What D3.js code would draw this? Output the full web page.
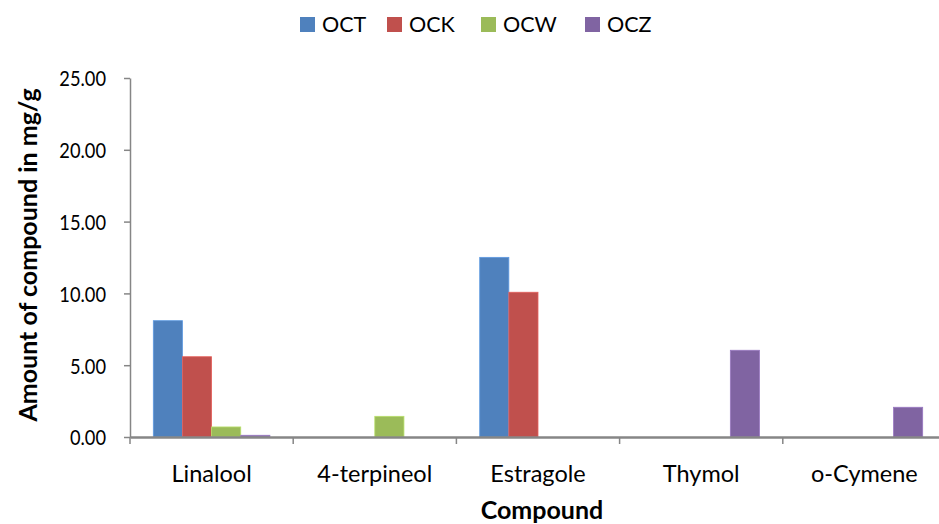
<!DOCTYPE html>
<html><head><meta charset="utf-8">
<script src="https://cdn.jsdelivr.net/npm/d3@7"></script>
<style>body{margin:0;background:#fff}svg{display:block;font-family:Lato,"Open Sans",sans-serif}</style>
</head><body><svg id="c" width="939" height="524"></svg>
<script>
const categories = ["Linalool","4-terpineol","Estragole","Thymol","o-Cymene"];
const seriesNames = ["OCT","OCK","OCW","OCZ"];
const OCT = [8.10, 0, 12.51, 0, 0];
const OCK = [5.59, 0, 10.08, 0, 0];
const OCW = [0.70, 1.44, 0, 0, 0];
const OCZ = [0.12, 0, 0, 6.04, 2.07];
const yTicks = [0,5,10,15,20,25];
const colors = ["#4F81BD","#C0504D","#9BBB59","#8064A2"];
const seriesVals = [OCT,OCK,OCW,OCZ];

const svg = d3.select("#c");
const x0 = 130, x1 = 946, yB = 437, yT = 78;
const x = d3.scaleBand().domain(categories).range([x0,x1]).paddingInner(0).paddingOuter(0);
const xs = d3.scaleBand().domain(seriesNames).range([0,x.bandwidth()]).paddingInner(0).paddingOuter(0.8);
const y = d3.scaleLinear().domain([0,25]).range([yB,yT]);

// bars
seriesNames.forEach((s,si)=>{
  svg.append("g").selectAll("rect").data(categories.map((c,i)=>({c,v:seriesVals[si][i]})).filter(d=>d.v>0))
    .join("rect")
    .attr("x",d=>x(d.c)+xs(s))
    .attr("y",d=>y(d.v))
    .attr("width",xs.bandwidth())
    .attr("height",d=>yB-y(d.v))
    .attr("fill",colors[si])
    .attr("stroke",d3.color(colors[si]).brighter(0.5))
    .attr("stroke-width",0.8);
});

// y axis
const ya = svg.append("g").attr("transform",`translate(${x0},0)`)
  .call(d3.axisLeft(y).tickValues(yTicks).tickFormat(d3.format(".2f")).tickSize(6).tickSizeOuter(0));
ya.select(".domain").attr("stroke","#868686").attr("stroke-width",1.5);
ya.selectAll(".tick line").attr("stroke","#868686").attr("stroke-width",1.5);
ya.selectAll(".tick text").attr("font-size",22).attr("fill","#000").attr("x",0).attr("dy","0.36em")
  .attr("transform","translate(-24,0) scale(0.83,1)").attr("font-family","Lato");

// x axis
const xa = svg.append("g").attr("transform",`translate(0,${yB})`)
  .call(d3.axisBottom(x).tickSize(0).tickSizeOuter(0));
xa.select(".domain").attr("stroke","#868686").attr("stroke-width",2.5);
xa.selectAll(".tick text").attr("font-size",23.5).attr("fill","#000").attr("y",45).attr("dy",0).attr("font-family","Lato");
// category boundary ticks
const bounds = categories.map(c=>x(c));
svg.append("g").selectAll("line").data(bounds).join("line")
  .attr("x1",d=>d).attr("x2",d=>d).attr("y1",yB).attr("y2",yB+7)
  .attr("stroke","#868686").attr("stroke-width",1.5);

// axis titles
svg.append("text").attr("x",542).attr("y",519).attr("text-anchor","middle")
  .attr("font-size",25).attr("font-weight","bold").text("Compound");
svg.append("text").attr("transform","translate(37,255) rotate(-90)").attr("text-anchor","middle")
  .attr("font-size",25).attr("font-weight","bold").text("Amount of compound in mg/g");

// legend
const legX = [300,387,481,585];
const lg = svg.append("g");
seriesNames.forEach((s,i)=>{
  lg.append("rect").attr("x",legX[i]).attr("y",17).attr("width",15).attr("height",15).attr("fill",colors[i]);
  lg.append("text").attr("x",legX[i]+22).attr("y",32).attr("font-size",21.5).text(s);
});
</script></body></html>
